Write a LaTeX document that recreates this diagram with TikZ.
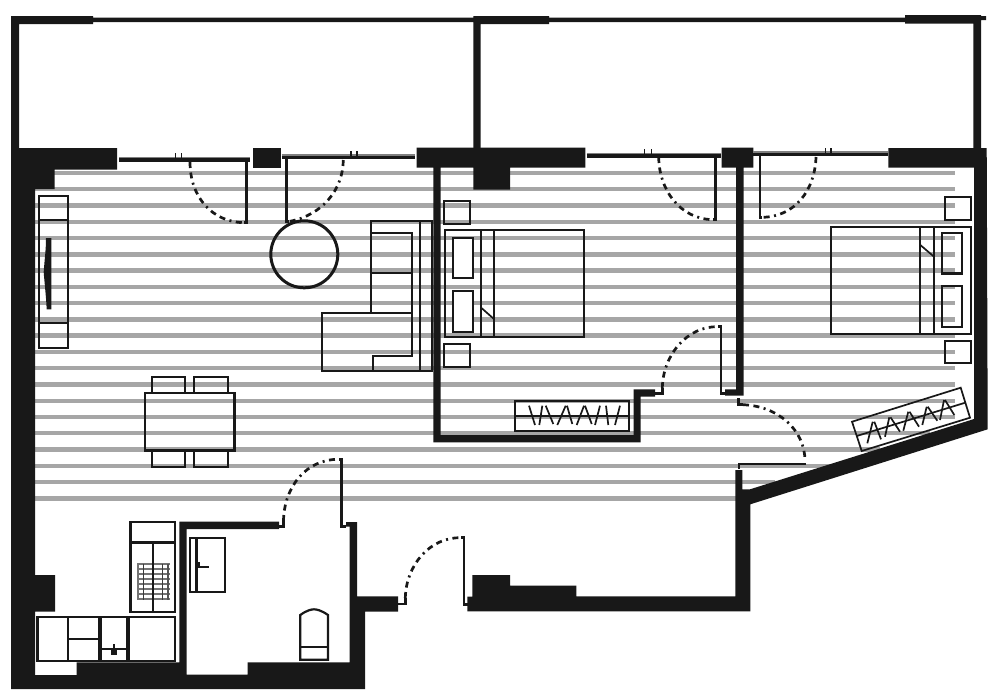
\documentclass[tikz,border=0pt]{standalone}
\definecolor{wallc}{HTML}{181818}
\definecolor{stripec}{HTML}{A6A6A6}
\tikzset{
  wall/.style={fill=wallc,draw=none},
  stripe/.style={draw=stripec,line width=4.4pt},
  furn/.style={draw=wallc,line width=2.2pt},
  thinf/.style={draw=wallc,line width=1.7pt},
  leaf/.style={draw=wallc,line width=2.6pt},
  swing/.style={draw=wallc,line width=2.7pt,dash pattern=on 6pt off 4.5pt on 6pt off 4.5pt on 2pt off 4.5pt},
  slider/.style={draw=wallc,line width=3.4pt},
  sliderback/.style={draw=wallc!55,line width=1.6pt},
  tick/.style={draw=wallc,line width=1.3pt},
  pillow/.style={draw=wallc,line width=2.2pt,fill=white}
}
\begin{document}
\begin{tikzpicture}[x=1pt,y=-1pt]
\useasboundingbox (0,0) rectangle (1000,699);
% floor stripes
\foreach \i/\xa/\xb in {0/54/955,1/35/955,2/35/955,3/35/955,4/35/955,5/35/955,6/35/955,7/35/955,8/35/955,9/35/955,10/35/955,11/35/955,12/35/955,13/35/955,14/35/955,15/35/955,16/35/930,17/35/880,18/35/830,19/35/775,20/35/736}
  \draw[stripe] (\xa,173+16.265*\i) -- (\xb,173+16.265*\i);
% balcony walls
\fill[wall] (11,16) -- (93,16) -- (93,17.5) -- (473.3,17.5) -- (473.3,16) -- (549,16) -- (549,17.5) -- (905,17.5) -- (905,15) -- (981,15) -- (981,16) -- (986,16) -- (986,20) -- (981,20) -- (981,150) -- (973.3,150) -- (973.3,23.5) -- (905,23.5) -- (905,22) -- (549,22) -- (549,24) -- (480.7,24) -- (480.7,150) -- (473.3,150) -- (473.3,22) -- (93,22) -- (93,24) -- (19,24) -- (19,150) -- (11,150) -- cycle;
% main outer wall: left, bottom, bathroom
\fill[wall] (11,148) -- (117,148) -- (117,169.5) -- (54.5,169.5) -- (54.5,189) -- (35,189) -- (35,575) -- (55,575) -- (55,611.7) -- (35,611.7) -- (35,675) -- (76.7,675) -- (76.7,662.3) -- (179.3,662.3) -- (179.3,521.7) -- (279,521.7) -- (279,529) -- (186.7,529) -- (186.7,674.7) -- (247.7,674.7) -- (247.7,662.3) -- (349.5,662.3) -- (349.5,526.7) -- (346,526.7) -- (346,522) -- (357,522) -- (357,596.3) -- (398,596.3) -- (398,611.7) -- (365,611.7) -- (365,689) -- (11,689) -- cycle;
% right outer wall
\fill[wall] (467.3,596.7) -- (472.3,596.7) -- (472.3,575) -- (510,575) -- (510,585.7) -- (576.3,585.7) -- (576.3,596.3) -- (735.3,596.3) -- (735.3,470) -- (742.3,470) -- (742.3,489.3) -- (750,489.3) -- (974,419) -- (974,167.7) -- (888.3,167.7) -- (888.3,148) -- (986.7,148) -- (987.7,429.3) -- (750.3,504.3) -- (750.3,611.3) -- (467.3,611.3) -- cycle;
% piers and partition walls
\fill[wall] (252.7,147.7) rectangle (281,167.5);
\fill[wall] (416.7,147.7) -- (585.3,147.7) -- (585.3,167.7) -- (510,167.7) -- (510,189.5) -- (473.3,189.5) -- (473.3,167.7) -- (440.7,167.7) -- (440.7,435) -- (633.7,435) -- (633.7,389.3) -- (655,389.3) -- (655,396.7) -- (640.7,396.7) -- (640.7,442.3) -- (433.3,442.3) -- (433.3,167.7) -- (416.7,167.7) -- cycle;
\fill[wall] (721.7,147.7) -- (753.3,147.7) -- (753.3,167.5) -- (743.7,167.5) -- (743.7,395.7) -- (725,395.7) -- (725,389.3) -- (736,389.3) -- (736,167.5) -- (721.7,167.5) -- cycle;
% sliding doors
\draw[sliderback] (119,157.3) -- (250,157.3);
\draw[sliderback] (281.5,155) -- (415,155);
\draw[sliderback] (586.7,153.6) -- (721.3,153.6);
\draw[sliderback] (753.3,152) -- (888,152);
\draw[slider] (119,160) -- (250,160);
\draw[slider] (281.5,157.5) -- (415,157.5);
\draw[slider] (586.7,156) -- (721.3,156);
\draw[slider] (753.3,154.3) -- (888,154.3);
\foreach \x/\y in {175.7/158,181.7/158,351/156,357/156,644.5/154,651.5/154,825.7/152.5,831/152.5}
  \draw[tick] (\x,\y) -- (\x,\y-5);
% balcony door leaves and swings
\draw[leaf] (244,222.7) -- (246.7,222.7) -- (246.7,160);
\draw[swing] (190,162) .. controls (190,197) and (212,222) .. (244,222.7);
\draw[leaf] (289,221.3) -- (286.7,221.3) -- (286.7,159);
\draw[swing] (343.3,160) .. controls (343,190) and (322,215) .. (290,221.3);
\draw[leaf] (713,219.7) -- (715.3,219.7) -- (715.3,157);
\draw[swing] (658.7,157) .. controls (659,190) and (680,219) .. (713,219.7);
\draw[leaf] (762,217.3) -- (760,217.3) -- (760,156);
\draw[swing] (816,157) .. controls (815,190) and (795,217) .. (762,217.3);
% inner doors
\draw[leaf] (279,526.5) -- (283.5,526.5) -- (283.5,521);
\draw[swing] (283.5,521) .. controls (284,487) and (306,459) .. (339,459.3);
\draw[leaf] (339,459.3) -- (341.7,459.3) -- (341.7,526.5) -- (346,526.5);
\draw[leaf] (398,604) -- (405.3,604) -- (405.3,598);
\draw[swing] (405.3,598) .. controls (406,565) and (430,537) .. (461,537.7);
\draw[leaf] (461,537.7) -- (464,537.7) -- (464,604.7) -- (468,604.7);
\draw[leaf] (655,393.3) -- (662.3,393.3) -- (662.3,388);
\draw[swing] (662.3,388) .. controls (663,354) and (688,326) .. (718,326.7);
\draw[leaf] (718,326.7) -- (721,326.7) -- (721,393.3) -- (725,393.3);
\draw[leaf] (738.7,398.3) -- (738.7,404.7) -- (743,404.7);
\draw[swing] (743,404.7) .. controls (778,406) and (805,430) .. (805,461);
\draw[furn] (738.7,468.7) -- (738.7,464) -- (806,464);
% table round
\draw[draw=wallc,line width=3pt] (304.3,254.3) circle[radius=33.5];
% TV unit
\draw[furn] (39,195.7) rectangle (68,348.3);
\draw[furn] (39,220.3) -- (68,220.3) (39,323.3) -- (68,323.3);
\fill[wall] (46,238) -- (51.3,238) -- (51.3,309.3) -- (46.7,309.3) .. controls (46,295) and (44.5,283) .. (43.7,272) .. controls (44.5,260) and (46,250) .. (46,238) -- cycle;
% sofa
\draw[furn] (371,313) -- (371,221) -- (431.7,221) -- (431.7,370.7) -- (322.3,370.7) -- (322.3,312.7) -- (411.7,312.7);
\draw[furn] (420,221) -- (420,370.7);
\draw[furn] (371,232.7) -- (411.7,232.7) -- (411.7,355.7) -- (373.3,355.7) -- (373.3,370.7);
\draw[furn] (371,273.3) -- (411.7,273.3);
% dining
\draw[draw=wallc,line width=2.4pt] (145,392.7) rectangle (234.3,450.3);
\draw[furn] (151.7,392.7) -- (151.7,376.7) -- (185.3,376.7) -- (185.3,392.7);
\draw[furn] (194,392.7) -- (194,376.7) -- (228,376.7) -- (228,392.7);
\draw[furn] (151.7,450.3) -- (151.7,466.7) -- (185.3,466.7) -- (185.3,450.3);
\draw[furn] (194,450.3) -- (194,466.7) -- (228,466.7) -- (228,450.3);
% bedroom 1
\draw[furn] (444.3,200.7) rectangle (470,224);
\draw[furn] (444.3,344) rectangle (470,367.3);
\draw[furn] (444.7,230) rectangle (584.3,337.3);
\draw[furn] (480.7,230) -- (480.7,337.3) (494.3,230) -- (494.3,337.3);
\draw[pillow] (453.3,238) rectangle (473.3,278.3);
\draw[pillow] (453.3,291) rectangle (473.3,331.7);
\draw[thinf] (480.7,307.3) -- (494.3,319.3);
% bedroom 2
\draw[furn] (945.3,197) rectangle (970.7,220.3);
\draw[furn] (945.3,340.7) rectangle (970.7,363.3);
\draw[furn] (831,226.7) rectangle (970.7,334);
\draw[furn] (920.3,226.7) -- (920.3,334) (934,226.7) -- (934,334);
\draw[draw=wallc,line width=2.4pt] (941.7,232.7) rectangle (961.7,273.3);
\draw[draw=wallc,line width=2.4pt] (941.7,286) rectangle (961.7,326.7);
\draw[thinf] (920.3,245) -- (934,256.7);
% wardrobe 1
\draw[thinf] (515,400.7) rectangle (629.3,430.7);
\draw[thinf] (515,415.7) -- (629.3,415.7);
\draw[thinf] (529,405.7) -- (535,425) (539.3,425) -- (542.3,405.7) (545.7,405.7) -- (553.3,424);
\draw[thinf] (557.3,425) -- (565.7,405.7) (567,405.7) -- (572.3,424);
\draw[thinf] (576.7,425) -- (584,405.7) (585,405.7) -- (591.7,424);
\draw[thinf] (595,425) -- (600,405.7);
\draw[thinf] (606,405.7) -- (608.3,425) (615,425) -- (620,405.7);
% wardrobe 2
\draw[thinf] (852,421.7) -- (960.7,387.7) -- (970,417.7) -- (861.7,451) -- cycle;
\draw[thinf] (856.7,436) -- (965.2,402.7);
\draw[thinf] (867.3,443.3) -- (872.7,421.7) (874.3,421.7) -- (881,439.3);
\draw[thinf] (885,436.7) -- (889.3,417.3) (890.5,417.3) -- (900,431.7);
\draw[thinf] (903.3,430.7) -- (908.3,411.7) (909.5,411.7) -- (919,426.7);
\draw[thinf] (922.3,425) -- (926.7,406.7) (927.7,406.7) -- (937.3,420.7);
\draw[thinf] (940,420) -- (944,400) (945,400) -- (954.3,415);
% kitchen
\draw[furn] (37.5,617) rectangle (67.7,661);
\draw[furn] (67.7,617) rectangle (99.5,661);
\draw[furn] (67.7,638.7) -- (99.5,638.7);
\draw[furn] (101.3,617) rectangle (127,661);
\draw[furn] (101.3,649.3) -- (127,649.3);
\draw[furn] (128.7,617) rectangle (175,661);
\draw[furn] (37.5,617) -- (175,617);
\fill[wall] (110.5,649.3) rectangle (117,654.5);
\draw[furn] (113.8,644) -- (113.8,650);
% cooker
\foreach \i in {0,...,7} \draw[draw=wallc!60,line width=1.9pt] (137,564.3+5*\i) -- (170,564.3+5*\i);
\foreach \x/\k in {138/60,143.5/85,162.5/85,168/75} \draw[draw=wallc!\k,line width=1.5pt] (\x,563.5) -- (\x,600);
\draw[furn] (130.5,522.3) rectangle (175.3,612.3);
\draw[draw=wallc,line width=2.8pt] (130.5,542.7) -- (175.3,542.7);
\draw[furn] (152.7,542.7) -- (152.7,612.3);
% bathroom
\draw[furn] (189.7,538.3) rectangle (224.7,592.3);
\draw[draw=wallc,line width=2.6pt] (196.3,538.3) -- (196.3,592.3);
\fill[wall] (196.3,562.3) rectangle (200.3,567.7);
\draw[furn] (196.3,567) -- (209,567);
\draw[furn] (300.3,659.7) -- (300.3,615) .. controls (307,610) and (312,609.3) .. (314,609.3) .. controls (316,609.3) and (321,610) .. (328,615) -- (328,659.7) -- cycle;
\draw[furn] (300.3,646.7) -- (328,646.7);
\end{tikzpicture}
\end{document}
